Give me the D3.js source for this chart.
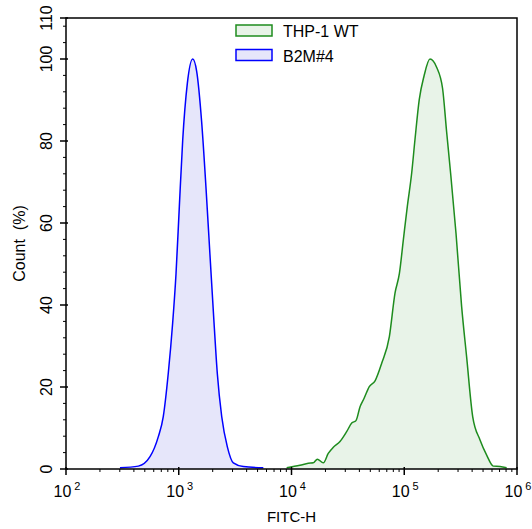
<!DOCTYPE html>
<html>
<head>
<meta charset="utf-8">
<script src="https://cdn.jsdelivr.net/npm/d3@7"></script>
<style>
  body { margin: 0; background: #fff; }
  text { font-family: "Liberation Sans", Arial, sans-serif; fill: #000; }
</style>
</head>
<body>
<svg id="chart" width="532" height="529"></svg>
<script>
// B2M#4 histogram (FITC-H value, count %)
var b2mFitc = [301, 438, 556, 659, 729, 807, 883, 946, 1012, 1084, 1191, 1330, 1442, 1596, 1746, 1892, 2056, 2198, 2404, 2698, 3048, 3741, 5623];
var b2mCount = [0.3, 0.7, 3.0, 7.9, 12.8, 23.3, 35.6, 47.7, 64.0, 80.2, 94.0, 100, 97.0, 84.7, 68.4, 52.2, 35.6, 23.3, 12.8, 5.4, 1.5, 0.6, 0.3];

// THP-1 WT histogram
var wtFitc = [9057, 11885, 14093, 15596, 16943, 19143, 21184, 23496, 26915, 30832, 34198, 37325, 40551, 43954, 48978, 55081, 63096, 73790, 82794, 90573, 98175, 106414, 116413, 124451, 135831, 149624, 169044, 193642, 218776, 237684, 257632, 287740, 322849, 357273, 404576, 469894, 538270, 616595, 706318, 809096];
var wtCount = [0.3, 0.9, 1.4, 1.5, 2.4, 1.5, 3.8, 5.3, 6.7, 9.1, 11.2, 11.8, 15.2, 17.2, 20.1, 21.5, 25.8, 32.3, 42.9, 47.7, 55.9, 64.0, 72.2, 80.3, 90.1, 95.8, 100, 98.0, 92.8, 82.2, 72.2, 57.5, 39.6, 27.4, 12.8, 7.1, 3.4, 0.7, 0.6, 0.3];

var legendNames = ["THP-1 WT", "B2M#4"];
var xTickExp = [2, 3, 4, 5, 6];
var yTickLabels = [0, 20, 40, 60, 80, 100, 110];

var svg = d3.select("#chart"),
  width = +svg.attr("width"),
  height = +svg.attr("height");
var margin = { top: 18, right: 15, bottom: 60, left: 66 };
var x0 = margin.left, x1 = width - margin.right;
var y0 = height - margin.bottom, y1 = margin.top;

var x = d3.scaleLog().domain([100, 1e6]).range([x0, x1]);
var y = d3.scaleLinear().domain([0, 110]).range([y0, y1]);

var area = d3.area()
  .x(function (d) { return x(d[0]); })
  .y0(y(0))
  .y1(function (d) { return y(d[1]); })
  .curve(d3.curveMonotoneX);
var line = d3.line()
  .x(function (d) { return x(d[0]); })
  .y(function (d) { return y(d[1]); })
  .curve(d3.curveMonotoneX);

var series = [
  { name: "B2M#4", data: d3.zip(b2mFitc, b2mCount), stroke: "#0000ff", fill: "#e6e6fa" },
  { name: "THP-1 WT", data: d3.zip(wtFitc, wtCount), stroke: "#1e8c1e", fill: "#e8f3e8" }
];

series.forEach(function (s) {
  svg.append("path").datum(s.data).attr("d", area).attr("fill", s.fill);
  svg.append("path").datum(s.data).attr("d", line)
    .attr("fill", "none").attr("stroke", s.stroke).attr("stroke-width", 1.5);
});

// frame
svg.append("rect")
  .attr("x", x0).attr("y", y1)
  .attr("width", x1 - x0).attr("height", y0 - y1)
  .attr("fill", "none").attr("stroke", "#000").attr("stroke-width", 1.5);

// x ticks
var xMinor = [];
xTickExp.slice(0, -1).forEach(function (e) {
  for (var k = 2; k <= 9; k++) xMinor.push(k * Math.pow(10, e));
});
svg.selectAll(".xminor").data(xMinor).join("line")
  .attr("x1", function (d) { return x(d); }).attr("x2", function (d) { return x(d); })
  .attr("y1", y0).attr("y2", y0 + 3)
  .attr("stroke", "#000").attr("stroke-width", 1);
svg.selectAll(".xmajor").data(xTickExp).join("line")
  .attr("x1", function (d) { return x(Math.pow(10, d)); })
  .attr("x2", function (d) { return x(Math.pow(10, d)); })
  .attr("y1", y0 - 2).attr("y2", y0 + 6)
  .attr("stroke", "#000").attr("stroke-width", 1.5);
var xl = svg.selectAll(".xlab").data(xTickExp).join("text")
  .attr("x", function (d) { return x(Math.pow(10, d)) + 1; })
  .attr("y", 497)
  .attr("text-anchor", "middle")
  .style("font-size", "16px");
xl.append("tspan").text("10");
xl.append("tspan").attr("dy", -7).attr("dx", 3).style("font-size", "11px")
  .text(function (d) { return d; });

// y ticks
var yMinor = d3.range(4, 110, 4).filter(function (v) { return v % 20 !== 0; });
svg.selectAll(".yminor").data(yMinor).join("line")
  .attr("x1", x0 - 3).attr("x2", x0)
  .attr("y1", function (d) { return y(d); }).attr("y2", function (d) { return y(d); })
  .attr("stroke", "#000").attr("stroke-width", 1);
svg.selectAll(".ymajor").data(yTickLabels).join("line")
  .attr("x1", x0 - 6).attr("x2", x0 + 2)
  .attr("y1", function (d) { return y(d); }).attr("y2", function (d) { return y(d); })
  .attr("stroke", "#000").attr("stroke-width", 1.5);
svg.selectAll(".ylab").data(yTickLabels).join("text")
  .attr("transform", function (d) { return "translate(52," + y(d) + ") rotate(-90)"; })
  .attr("text-anchor", "middle")
  .style("font-size", "16px")
  .text(function (d) { return d; });

// axis titles
svg.append("text")
  .attr("x", (x0 + x1) / 2).attr("y", 522)
  .attr("text-anchor", "middle").style("font-size", "15px")
  .text("FITC-H");
svg.append("text")
  .attr("transform", "translate(25," + (y0 + y1) / 2 + ") rotate(-90)")
  .attr("text-anchor", "middle").style("font-size", "16px")
  .style("white-space", "pre")
  .text("Count  (%)");

// legend
var legendColors = { "THP-1 WT": series[1], "B2M#4": series[0] };
legendNames.forEach(function (n, i) {
  var s = legendColors[n];
  var ly = 25 + i * 24.5;
  svg.append("rect")
    .attr("x", 236).attr("y", ly).attr("width", 36).attr("height", 11)
    .attr("fill", s.fill).attr("stroke", s.stroke).attr("stroke-width", 1.5);
  svg.append("text")
    .attr("x", 283).attr("y", ly + 12)
    .style("font-size", "16px")
    .text(n);
});
</script>
</body>
</html>
